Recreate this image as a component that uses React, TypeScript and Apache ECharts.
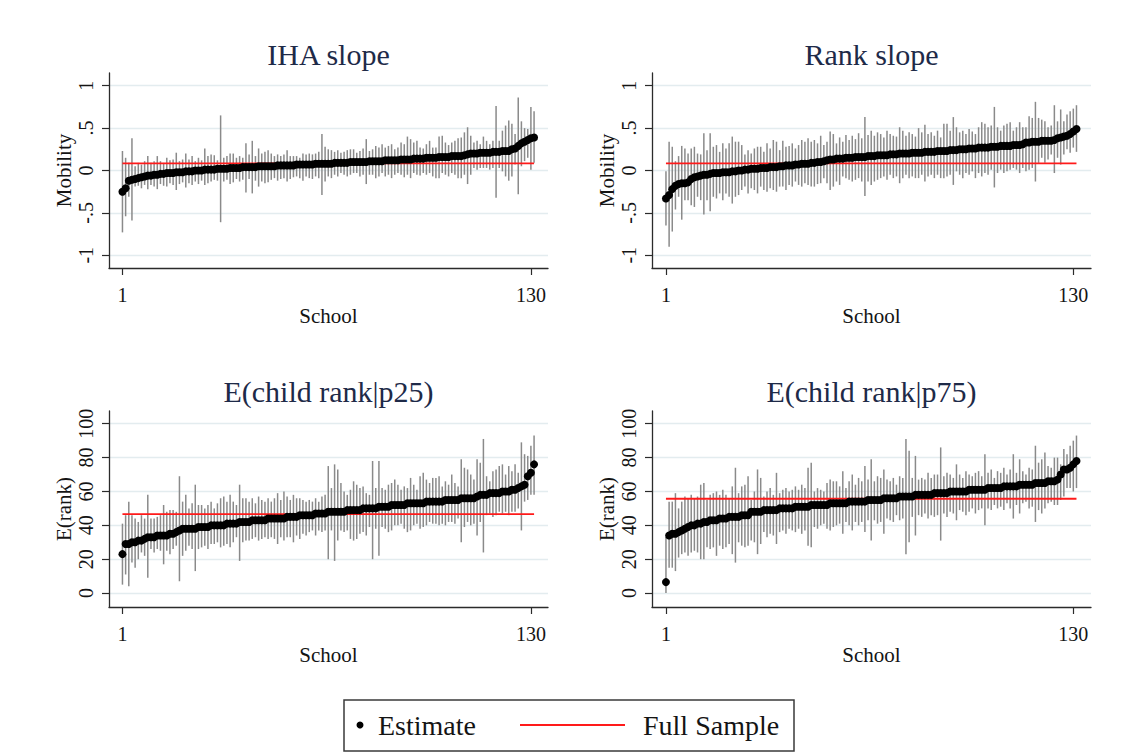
import React, { useEffect, useRef } from "react";
import * as echarts from "echarts";

const FONT = '"Liberation Serif", "Times New Roman", serif';

// ---------- IHA slope ----------
const ihaEst = [
  -.25,-.21,-.12,-.11,-.10,-.09,-.08,-.07,-.06,-.06,
  -.05,-.05,-.04,-.04,-.03,-.03,-.03,-.02,-.02,-.02,
  -.01,-.01,-.01,0,0,0,.01,.01,.01,.01,
  .02,.02,.02,.02,.03,.03,.03,.03,.04,.04,
  .04,.04,.04,.05,.05,.05,.05,.05,.05,.06,
  .06,.06,.06,.06,.06,.07,.07,.07,.07,.07,
  .07,.08,.08,.08,.08,.08,.08,.09,.09,.09,
  .09,.09,.10,.10,.10,.10,.10,.10,.11,.11,
  .11,.11,.11,.12,.12,.12,.12,.12,.13,.13,
  .13,.13,.14,.14,.14,.14,.15,.15,.15,.15,
  .16,.16,.16,.16,.17,.17,.17,.17,.18,.19,
  .20,.20,.20,.21,.21,.21,.21,.22,.22,.22,
  .23,.23,.23,.25,.26,.29,.32,.34,.36,.38,.39,
];
const ihaHi = [
  .23,.15,.09,.38,.05,.09,.07,.11,.17,.09,
  .11,.17,.11,.09,.15,.12,.13,.21,.11,.13,
  .20,.13,.17,.11,.15,.12,.26,.17,.19,.18,
  .12,.65,.15,.17,.20,.20,.15,.17,.15,.32,
  .19,.35,.17,.26,.20,.22,.24,.20,.17,.19,
  .17,.19,.24,.17,.17,.17,.15,.20,.19,.20,
  .19,.20,.22,.43,.28,.25,.24,.22,.24,.21,
  .22,.24,.25,.25,.21,.23,.26,.37,.23,.25,
  .29,.27,.31,.27,.29,.31,.25,.27,.33,.31,
  .40,.37,.33,.35,.27,.26,.31,.35,.27,.27,
  .40,.41,.33,.30,.33,.35,.38,.39,.45,.51,
  .41,.33,.35,.31,.40,.35,.31,.35,.76,.35,
  .47,.53,.59,.55,.43,.86,.58,.50,.49,.75,.70,
];
const ihaLo = [
  -.73,-.54,-.31,-.59,-.19,-.18,-.21,-.17,-.22,-.17,
  -.19,-.22,-.16,-.18,-.19,-.15,-.17,-.23,-.16,-.14,
  -.20,-.15,-.17,-.13,-.16,-.12,-.17,-.15,-.13,-.11,
  -.12,-.61,-.13,-.11,-.16,-.14,-.10,-.13,-.11,-.26,
  -.10,-.27,-.12,-.19,-.13,-.15,-.14,-.11,-.09,-.12,
  -.10,-.09,-.13,-.10,-.08,-.07,-.09,-.12,-.07,-.09,
  -.10,-.07,-.09,-.29,-.13,-.07,-.09,-.05,-.07,-.03,
  -.05,-.07,-.05,-.03,-.03,-.07,-.05,-.16,-.05,-.05,
  -.09,-.07,-.03,-.07,-.05,-.09,-.05,-.03,-.05,-.08,
  -.05,-.09,-.03,-.05,-.06,-.03,-.05,-.03,-.07,-.09,
  -.09,-.03,-.05,-.07,-.03,-.05,-.09,-.09,-.05,-.16,
  -.05,.03,.01,.03,.03,.03,.01,.03,-.32,.03,
  -.01,-.07,-.12,-.07,.07,-.28,.05,.11,.15,.01,.09,
];

// ---------- Rank slope ----------
const rankEst = [
  -.33,-.29,-.22,-.18,-.16,-.15,-.15,-.14,-.10,-.08,
  -.07,-.06,-.05,-.05,-.04,-.03,-.03,-.03,-.02,-.02,
  -.02,-.01,-.01,0,0,.01,.01,.02,.02,.02,
  .03,.03,.03,.04,.04,.04,.05,.05,.06,.06,
  .06,.07,.07,.08,.08,.08,.09,.09,.10,.10,
  .11,.12,.13,.13,.14,.14,.14,.15,.15,.15,
  .16,.16,.16,.16,.17,.17,.17,.18,.18,.18,
  .18,.19,.19,.19,.20,.20,.20,.20,.21,.21,
  .21,.21,.22,.22,.22,.22,.23,.23,.23,.23,
  .24,.24,.24,.25,.25,.25,.26,.26,.26,.27,
  .27,.27,.27,.28,.28,.28,.29,.29,.29,.29,
  .30,.30,.30,.31,.33,.33,.34,.34,.34,.35,
  .35,.35,.35,.36,.38,.39,.40,.41,.43,.46,.49,
];
const rankHi = [
  -.01,.34,.28,.11,.17,.29,.26,.20,.26,.28,
  .20,.19,.44,.24,.44,.28,.30,.22,.32,.26,
  .32,.40,.34,.34,.30,.19,.24,.20,.26,.28,
  .28,.22,.32,.26,.36,.34,.24,.35,.28,.29,
  .32,.26,.30,.36,.34,.38,.34,.36,.32,.41,
  .30,.34,.46,.43,.32,.39,.34,.42,.36,.41,
  .37,.44,.38,.63,.42,.47,.41,.45,.43,.39,
  .47,.43,.41,.40,.51,.47,.41,.45,.43,.40,
  .50,.45,.54,.43,.45,.41,.47,.39,.55,.55,
  .47,.63,.51,.45,.47,.43,.49,.46,.43,.51,
  .57,.55,.51,.53,.75,.51,.47,.53,.55,.57,
  .47,.51,.57,.51,.51,.64,.62,.81,.62,.60,
  .58,.51,.53,.77,.58,.72,.58,.66,.70,.73,.77,
];
const rankLo = [
  -.65,-.90,-.72,-.46,-.31,-.58,-.35,-.35,-.41,-.43,
  -.31,-.35,-.52,-.35,-.48,-.31,-.33,-.27,-.35,-.27,
  -.31,-.39,-.31,-.29,-.23,-.19,-.27,-.21,-.23,-.27,
  -.19,-.23,-.25,-.21,-.23,-.25,-.19,-.19,-.23,-.17,
  -.19,-.13,-.17,-.19,-.15,-.17,-.19,-.19,-.16,-.15,
  -.09,-.15,-.23,-.19,-.13,-.17,-.07,-.09,-.11,-.13,
  -.11,-.09,-.13,-.30,-.13,-.17,-.13,-.11,-.09,-.07,
  -.11,-.05,-.09,-.07,-.15,-.09,-.05,-.09,-.07,-.09,
  -.09,-.05,-.13,-.07,-.05,-.09,-.05,-.09,-.09,-.07,
  -.05,-.17,-.01,-.05,-.09,-.03,-.05,-.01,-.09,-.03,
  -.07,-.03,-.05,.01,-.20,-.03,.01,-.03,-.01,.01,
  .03,.01,-.03,.03,-.01,.01,.03,-.13,.09,.15,
  .09,.13,.19,-.03,.15,.07,.19,.25,.21,.27,.22,
];

// ---------- E(child rank|p25) ----------
const p25Est = [
  23,29,29,30,30,31,31,32,33,33,
  33,34,34,34,34,35,35,36,37,38,
  38,38,38,38,39,39,39,39,40,40,
  40,40,40,41,41,41,41,42,42,42,
  42,43,43,43,43,43,44,44,44,44,
  44,44,45,45,45,45,46,46,46,46,
  46,47,47,47,47,48,48,48,48,48,
  48,49,49,49,49,49,50,50,50,50,
  50,51,51,51,51,52,52,52,52,52,
  53,53,53,53,53,53,54,54,54,54,
  54,54,55,55,55,55,55,56,56,56,
  56,56,57,58,58,58,59,59,59,59,
  60,60,60,61,61,62,63,64,69,71,76,
];
const p25Hi = [
  41,46,54,46,44,42,46,44,58,44,
  44,45,46,52,48,49,49,48,69,54,
  58,50,53,64,52,52,50,52,54,50,
  53,56,57,54,58,54,52,64,56,56,
  54,56,53,57,55,54,56,54,56,59,
  55,60,57,55,58,56,56,55,54,55,
  54,56,54,57,58,75,62,76,73,65,
  60,58,61,66,64,62,63,59,58,78,
  62,78,62,61,64,65,67,64,61,63,
  62,68,64,61,69,71,67,65,68,68,
  69,63,66,64,70,65,63,79,74,73,
  70,67,79,77,91,69,66,72,73,75,
  76,70,75,72,76,71,89,82,81,87,93,
];
const p25Lo = [
  5,11,4,18,15,20,24,22,9,26,
  24,26,25,17,25,23,26,28,7,22,
  25,28,26,13,26,27,28,26,29,29,
  30,27,28,29,27,30,33,19,30,31,
  31,32,33,31,32,33,32,33,32,29,
  33,31,33,33,30,34,32,35,34,36,
  37,34,37,36,37,20,37,19,31,37,
  36,37,32,31,32,35,36,34,39,20,
  38,22,39,38,36,37,40,40,41,38,
  36,37,40,41,38,39,40,42,41,41,
  40,41,40,42,42,41,44,30,39,42,
  40,41,34,42,24,46,47,45,46,48,
  47,48,46,48,48,50,37,54,55,58,58,
];

// ---------- E(child rank|p75) ----------
const p75Est = [
  6.5,34,35,35,36,37,38,39,40,40,
  41,41,42,42,43,43,43,44,44,44,
  45,45,45,45,46,46,46,48,48,48,
  48,49,49,49,49,49,50,50,50,50,
  50,51,51,51,51,51,52,52,52,52,
  52,52,53,53,53,53,53,53,54,54,
  54,54,54,54,55,55,55,55,55,56,
  56,56,56,56,57,57,57,57,57,58,
  58,58,58,58,58,59,59,59,59,59,
  60,60,60,60,60,60,61,61,61,61,
  61,61,62,62,62,62,62,63,63,63,
  63,63,64,64,64,64,64,65,65,65,
  65,66,66,66,67,70,73,73,74,76,78,
];
const p75Hi = [
  33,54,54,59,50,54,57,56,58,56,
  57,64,65,55,58,59,60,58,61,58,
  56,63,74,59,63,64,69,55,60,73,
  68,57,60,62,58,71,59,61,62,60,
  61,63,61,64,62,74,77,60,62,61,
  60,65,67,66,66,63,72,62,66,70,
  64,68,66,75,67,79,66,69,68,73,
  67,66,68,64,69,68,91,84,68,81,
  67,68,67,71,68,70,70,86,69,71,
  70,68,76,70,68,72,70,69,71,72,
  69,82,71,73,68,72,71,74,70,73,
  82,71,79,72,70,74,73,87,77,79,
  83,75,74,80,80,76,85,82,87,90,93,
];
const p75Lo = [
  0,15,15,13,21,23,24,22,24,25,
  24,20,20,27,26,27,22,28,26,27,
  29,23,18,30,28,27,28,31,30,23,
  29,36,33,35,34,29,36,37,35,38,
  37,36,38,35,37,28,27,39,38,40,
  41,38,37,39,40,41,35,42,40,37,
  42,40,42,36,43,31,43,41,42,35,
  44,43,42,46,43,44,23,30,45,34,
  46,45,47,44,46,45,46,31,47,45,
  48,47,43,49,48,46,48,50,47,49,
  50,40,50,49,52,50,51,49,53,50,
  44,52,47,53,54,50,51,42,49,47,
  50,53,54,52,52,55,57,62,62,60,62,
];

// full-sample reference values
const fullSample = [0.083, 0.083, 46.6, 55.7];
const titles = ["IHA slope", "Rank slope", "E(child rank|p25)", "E(child rank|p75)"];
const yNames = ["Mobility", "Mobility", "E(rank)", "E(rank)"];
const slopeTicks = [-1, -0.5, 0, 0.5, 1];
const rankTicks = [0, 20, 40, 60, 80, 100];
const xTicks = [1, 130];
const legendLabels = ["Estimate", "Full Sample"];

const panels = [
  { est: ihaEst, lo: ihaLo, hi: ihaHi },
  { est: rankEst, lo: rankLo, hi: rankHi },
  { est: p25Est, lo: p25Lo, hi: p25Hi },
  { est: p75Est, lo: p75Lo, hi: p75Hi },
];

const grids = [
  { left: 109, top: 73, width: 439, height: 195 },
  { left: 652, top: 73, width: 439, height: 195 },
  { left: 109, top: 411, width: 439, height: 196 },
  { left: 652, top: 411, width: 439, height: 196 },
];
const xRanges = [[-3.25, 135.4], [-3.42, 135.6], [-3.25, 135.4], [-3.42, 135.6]];
const yRanges = [[-1.15, 1.15], [-1.15, 1.15], [-8.2, 107.5], [-8.2, 107.5]];
const titleY = [54, 54, 391.5, 391.5];

const slopeFmt = (v: number) => {
  if (v === 0) return "0";
  const s = String(Math.abs(v)).replace(/^0/, "");
  return (v < 0 ? "-" : "") + s;
};

const AXIS_COLOR = "#2b2b2b";
const TEXT_COLOR = "#141414";

export default function App() {
  const ref = useRef<HTMLDivElement>(null);
  useEffect(() => {
    if (!ref.current) return;
    const chart = echarts.init(ref.current, undefined, { renderer: "svg" });

    const xAxis: any[] = [];
    const yAxis: any[] = [];
    const series: any[] = [];
    const graphic: any[] = [];

    panels.forEach((p, k) => {
      const isSlope = k < 2;
      const yt = isSlope ? slopeTicks : rankTicks;
      xAxis.push({
        gridIndex: k,
        type: "value",
        min: xRanges[k][0],
        max: xRanges[k][1],
        axisLine: { show: true, onZero: false, lineStyle: { color: AXIS_COLOR, width: 1.3 } },
        axisTick: { show: true, length: 7, customValues: xTicks, lineStyle: { color: AXIS_COLOR, width: 1.2 } },
        axisLabel: { customValues: xTicks, fontSize: 20, fontFamily: FONT, color: TEXT_COLOR, margin: 17 },
        splitLine: { show: false },
        name: "School",
        nameLocation: "middle",
        nameGap: 36,
        nameTextStyle: { fontSize: 21, fontFamily: FONT, color: TEXT_COLOR },
      });
      yAxis.push({
        gridIndex: k,
        type: "value",
        min: yRanges[k][0],
        max: yRanges[k][1],
        axisLine: { show: true, onZero: false, lineStyle: { color: AXIS_COLOR, width: 1.3 } },
        axisTick: { show: true, length: 7, customValues: yt, lineStyle: { color: AXIS_COLOR, width: 1.2 } },
        axisLabel: {
          customValues: yt,
          rotate: 90,
          fontSize: 20,
          fontFamily: FONT,
          color: TEXT_COLOR,
          margin: 13,
          formatter: isSlope ? slopeFmt : (v: number) => String(v),
        },
        splitLine: { show: true, lineStyle: { color: "#e3ecef", width: 1.3 } },
        name: yNames[k],
        nameLocation: "middle",
        nameRotate: 90,
        nameGap: 35,
        nameTextStyle: { fontSize: 21, fontFamily: FONT, color: TEXT_COLOR },
      });

      const ciData = p.est.map((_, i) => [i + 1, p.lo[i], p.hi[i]]);
      series.push({
        type: "custom",
        xAxisIndex: k,
        yAxisIndex: k,
        z: 1,
        silent: true,
        encode: { x: 0, y: [1, 2] },
        data: ciData,
        renderItem: (_params: any, api: any) => {
          const x = api.value(0);
          const a = api.coord([x, api.value(1)]);
          const b = api.coord([x, api.value(2)]);
          return {
            type: "line",
            shape: { x1: a[0], y1: a[1], x2: b[0], y2: b[1] },
            style: { stroke: "#8a8a8a", lineWidth: 1.5 },
          };
        },
      });
      series.push({
        type: "line",
        name: legendLabels[1],
        xAxisIndex: k,
        yAxisIndex: k,
        z: 2,
        showSymbol: false,
        silent: true,
        data: [[1, fullSample[k]], [p.est.length, fullSample[k]]],
        lineStyle: { color: "#ff1a1a", width: 1.8 },
      });
      series.push({
        type: "scatter",
        name: legendLabels[0],
        xAxisIndex: k,
        yAxisIndex: k,
        z: 3,
        symbolSize: 8,
        silent: true,
        itemStyle: { color: "#000", opacity: 1 },
        data: p.est.map((v, i) => [i + 1, v]),
      });

      const g = grids[k];
      graphic.push({
        type: "text",
        x: g.left + g.width / 2,
        y: titleY[k],
        style: {
          text: titles[k],
          fontSize: 30,
          fontFamily: FONT,
          fill: "#1e2a48",
          align: "center",
          verticalAlign: "middle",
        },
      });
    });

    // legend box
    graphic.push(
      {
        type: "rect",
        shape: { x: 344, y: 700, width: 450, height: 51 },
        style: { fill: "#fff", stroke: "#3a3a3a", lineWidth: 1.5 },
      },
      { type: "circle", shape: { cx: 360, cy: 725, r: 3.5 }, style: { fill: "#000" } },
      {
        type: "text",
        x: 378,
        y: 725.5,
        style: { text: legendLabels[0], fontSize: 28, fontFamily: FONT, fill: TEXT_COLOR, align: "left", verticalAlign: "middle" },
      },
      {
        type: "line",
        shape: { x1: 520, y1: 725, x2: 625, y2: 725 },
        style: { stroke: "#ff1a1a", lineWidth: 2 },
      },
      {
        type: "text",
        x: 643,
        y: 725.5,
        style: { text: legendLabels[1], fontSize: 28, fontFamily: FONT, fill: TEXT_COLOR, align: "left", verticalAlign: "middle" },
      }
    );

    chart.setOption({
      animation: false,
      backgroundColor: "#ffffff",
      textStyle: { fontFamily: FONT },
      grid: grids.map((g) => ({ ...g, containLabel: false })),
      xAxis,
      yAxis,
      series,
      graphic,
    });
    return () => chart.dispose();
  }, []);

  return (
    <div
      ref={ref}
      style={{ position: "absolute", left: 0, top: 0, width: 1126, height: 752, background: "#fff" }}
    />
  );
}
